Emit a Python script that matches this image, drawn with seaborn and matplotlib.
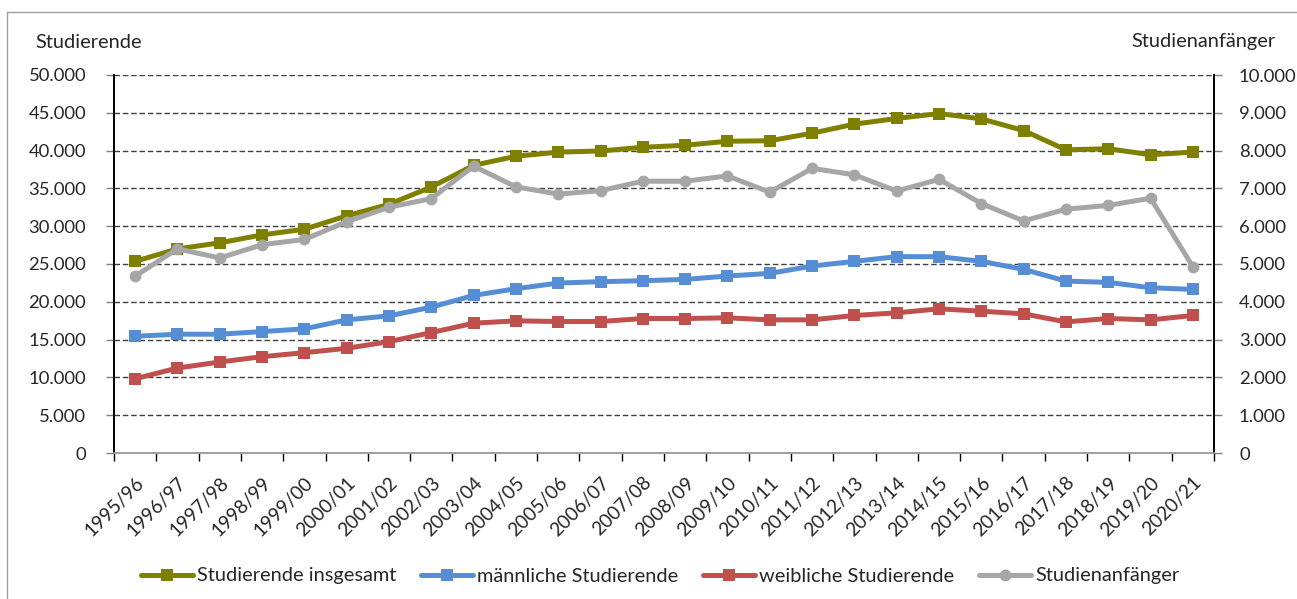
import matplotlib
matplotlib.use("Agg")
import matplotlib.pyplot as plt
import seaborn as sns
import pandas as pd
from matplotlib.ticker import FuncFormatter, FixedLocator

semester = ["1995/96", "1996/97", "1997/98", "1998/99", "1999/00", "2000/01", "2001/02",
            "2002/03", "2003/04", "2004/05", "2005/06", "2006/07", "2007/08", "2008/09",
            "2009/10", "2010/11", "2011/12", "2012/13", "2013/14", "2014/15", "2015/16",
            "2016/17", "2017/18", "2018/19", "2019/20", "2020/21"]
insgesamt = [25350, 27000, 27800, 28850, 29600, 31370, 32900, 35180, 38050, 39250,
             39800, 39950, 40440, 40700, 41240, 41300, 42300, 43500, 44250, 44900,
             44200, 42650, 40100, 40250, 39450, 39800]
maennlich = [15440, 15710, 15710, 16060, 16420, 17610, 18140, 19290, 20840, 21730,
             22480, 22660, 22790, 22960, 23410, 23760, 24730, 25350, 25970, 25970,
             25350, 24290, 22740, 22570, 21860, 21640]
weiblich = [9820, 11240, 12040, 12740, 13270, 13850, 14730, 15930, 17170, 17480,
            17390, 17390, 17790, 17790, 17880, 17610, 17610, 18190, 18540, 19070,
            18760, 18410, 17340, 17790, 17610, 18190]
anfaenger = [4680, 5400, 5160, 5510, 5650, 6120, 6500, 6730, 7590, 7040,
             6850, 6940, 7190, 7190, 7330, 6900, 7530, 7360, 6930, 7240,
             6600, 6140, 6450, 6550, 6740, 4930]

sns.set_theme(style="white")
plt.rcParams['font.family'] = ['Lato', 'DejaVu Sans']

W, H = 1297, 599
fig = plt.figure(figsize=(W / 100, H / 100), dpi=100)
ax = fig.add_axes([114 / W, 1 - 453 / H, 1100 / W, 378 / H])
ax2 = ax.twinx()

idx = list(range(len(semester)))
df = pd.DataFrame({"i": idx, "ins": insgesamt, "m": maennlich, "w": weiblich, "a": anfaenger})

series = [("ins", "Studierende insgesamt", "#808000", "s", ax),
          ("m", "männliche Studierende", "#558ED5", "s", ax),
          ("w", "weibliche Studierende", "#C0504D", "s", ax),
          ("a", "Studienanfänger", "#A6A6A6", "o", ax2)]

handles = []
for col, lab, color, mk, a in series:
    sns.lineplot(data=df, x="i", y=col, ax=a, color=color, linewidth=3.6,
                 marker=mk, markersize=8.5, markeredgewidth=0,
                 label=lab, legend=False)
    handles.append(a.get_lines()[-1])

ax.set_xlim(-0.5, len(semester) - 0.5)
ax.set_ylim(0, 50000)
ax2.set_ylim(0, 10000)
ax.set_yticks(range(0, 50001, 5000))
ax2.set_yticks(range(0, 10001, 1000))

fmt = FuncFormatter(lambda v, p: f"{int(v):,}".replace(",", "."))
ax.yaxis.set_major_formatter(fmt)
ax2.yaxis.set_major_formatter(fmt)

ax.yaxis.grid(True, linestyle=(0, (4, 2)), color="#404040", linewidth=1)
ax.xaxis.grid(False)
ax2.grid(False)

ax.set_xticks(idx)
ax.set_xticklabels(semester, rotation=45, ha="right", rotation_mode="anchor")
ax.xaxis.set_minor_locator(FixedLocator([i - 0.5 for i in range(len(semester) + 1)]))
ax.tick_params(axis="x", which="major", length=0, pad=15, labelsize=13.8)
ax.tick_params(axis="x", which="minor", length=6, width=1, color="black", direction="out", bottom=True)
ax.tick_params(axis="y", length=6, width=1, color="#808080", direction="out", labelsize=13.3, pad=14, left=True)
ax2.tick_params(axis="y", length=6, width=1, color="#808080", direction="out", labelsize=13.3, pad=12, right=True)

ax.set_xlabel("")
ax.set_ylabel("")
ax2.set_ylabel("")

for a in (ax, ax2):
    a.spines["top"].set_visible(False)
    a.spines["left"].set_color("black")
    a.spines["right"].set_color("black")
    a.spines["bottom"].set_color("#A0A0A0")
    for s in a.spines.values():
        s.set_linewidth(1.2)

fig.text(35 / W, 1 - 42 / H, "Studierende", fontsize=14.4, va="center", ha="left")
fig.text(1275 / W, 1 - 42 / H, "Studienanfänger", fontsize=14.4, va="center", ha="right")

fig.legend(handles=handles, labels=[s[1] for s in series], loc="center",
           bbox_to_anchor=(660 / W, 1 - 576 / H), ncol=4, frameon=False,
           fontsize=14.4, handlelength=2.6, columnspacing=1.25, handletextpad=0.2)

fig.add_artist(plt.Line2D([7 / W, 7 / W], [0, 1 - 12 / H], transform=fig.transFigure,
                          color="#A0A0A0", linewidth=1))
fig.add_artist(plt.Line2D([7 / W, 1], [1 - 12 / H, 1 - 12 / H], transform=fig.transFigure,
                          color="#A0A0A0", linewidth=1))

fig.savefig("out.png", dpi=100)
